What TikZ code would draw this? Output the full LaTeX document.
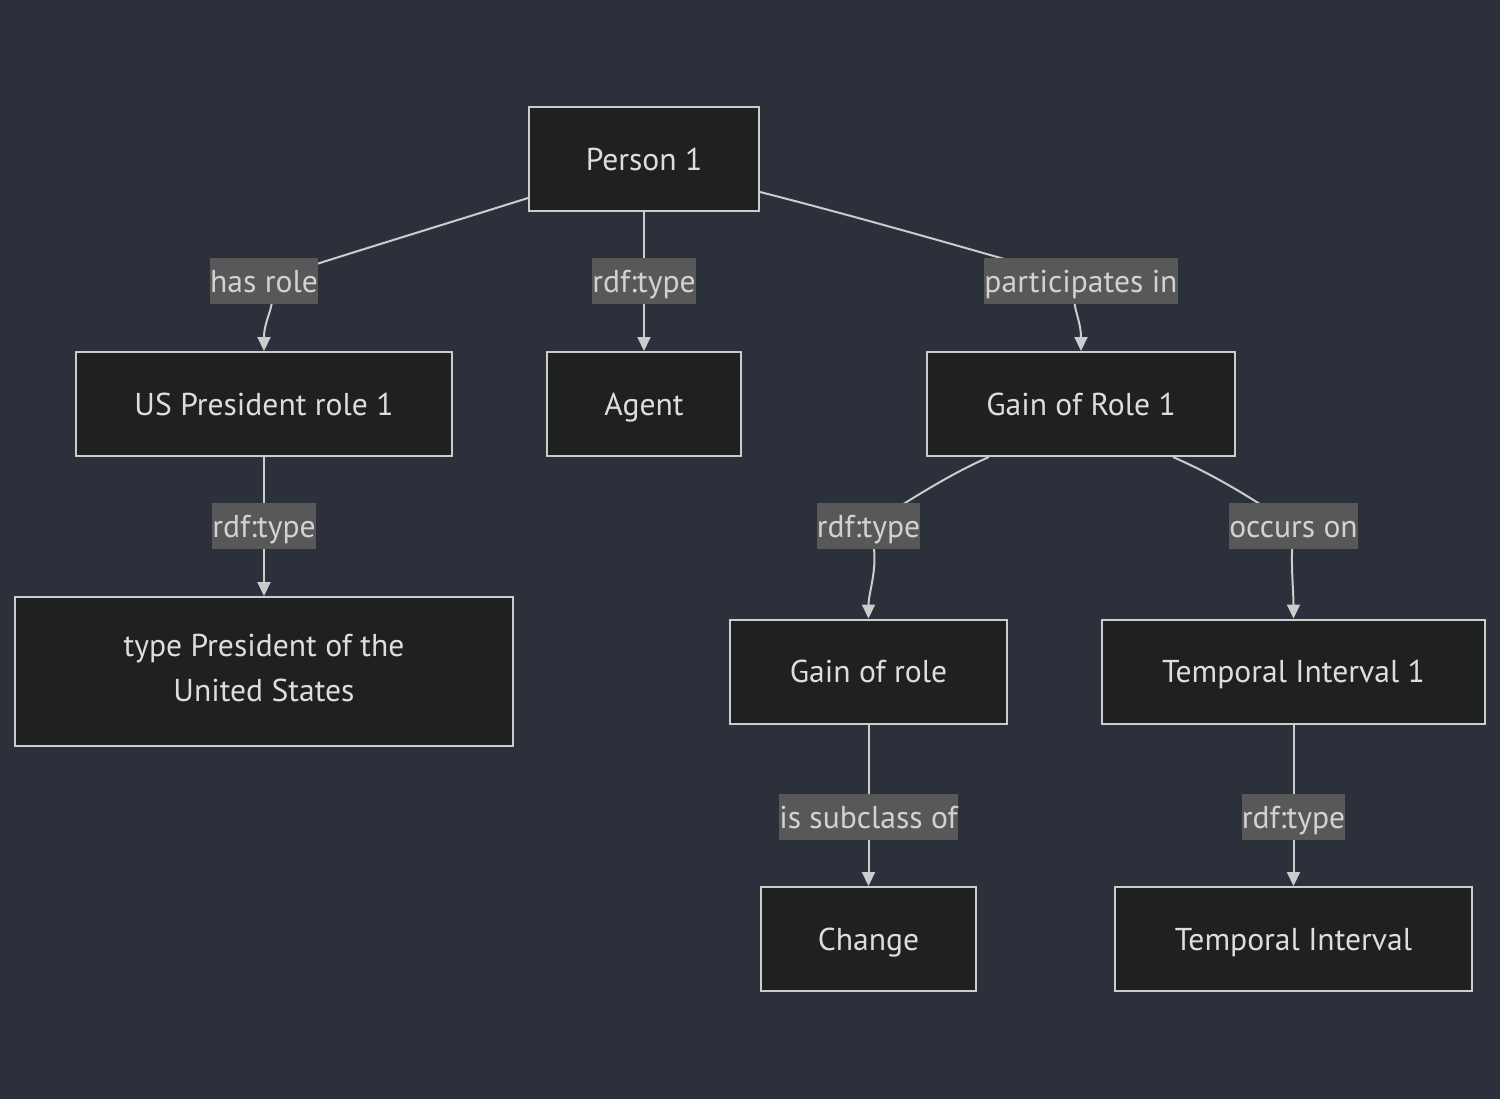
\documentclass[tikz,border=0pt]{standalone}
\usepackage{fontspec}
\setmainfont{PT Sans}
\usetikzlibrary{arrows.meta}
\definecolor{bgcol}{HTML}{2B303B}
\definecolor{boxfill}{HTML}{1F2020}
\definecolor{boxline}{HTML}{CCCCCC}
\definecolor{txtcol}{HTML}{DDDDDD}
\definecolor{lblfill}{HTML}{585858}
\definecolor{lbltxt}{HTML}{D2D2D2}

\begin{document}
\begin{tikzpicture}[x=0.5pt,y=-0.5pt,
  box/.style={draw=boxline,fill=boxfill,line width=1pt,text=txtcol,font=\fontsize{15.8}{22.5}\selectfont,minimum height=52pt,inner sep=0pt,align=center,execute at begin node={\rule[-0.22em]{0pt}{1.14em}}},
  lbl/.style={fill=lblfill,text=lbltxt,font=\fontsize{15.8}{17}\selectfont,minimum height=23pt,inner xsep=0pt,inner ysep=0pt,execute at begin node={\rule[-0.22em]{0pt}{1.14em}}},
  edge/.style={draw=boxline,line width=1pt,-{Triangle[length=7pt,width=6.5pt]}}]%
\fill[bgcol] (0,0) rectangle (1500,1099);%
% boxes
\node[box,minimum width=115pt] (person) at (644,159) {Person 1};%
\node[box,minimum width=188pt] (usrole) at (264,404) {US President role 1};%
\node[box,minimum width=97pt] (agent) at (644,404) {Agent};%
\node[box,minimum width=154pt] (gainrole1) at (1081,404) {Gain of Role 1};%
\node[box,minimum width=249pt,minimum height=74.5pt] (uspres) at (264,671.5) {type President of the\\United States};%
\node[box,minimum width=138.5pt] (gainrole) at (868.5,671.5) {Gain of role};%
\node[box,minimum width=191.5pt] (tempint1) at (1293.5,671.5) {Temporal Interval 1};%
\node[box,minimum width=107.5pt] (change) at (868.5,939) {Change};%
\node[box,minimum width=178.5pt] (tempint) at (1293.5,939) {Temporal Interval};%
% label spots
\coordinate (hasrolept) at (264,281);%
\coordinate (typeapt) at (644,281);%
\coordinate (partpt) at (1081,281);%
\coordinate (typebpt) at (264,526);%
\coordinate (typecpt) at (868.5,526);%
\coordinate (occurspt) at (1293.5,526);%
\coordinate (subclasspt) at (868.5,817);%
\coordinate (typedpt) at (1293.5,817);%
% edges
\draw[edge] ([yshift=7pt]person.south west) .. controls (420,232) and (340,256) .. (hasrolept) .. controls (282,300) and (264,315) .. (usrole.north);%
\draw[edge] (person) -- (agent);%
\draw[edge] ([yshift=10pt]person.south east) .. controls (870,220) and (990,255) .. (partpt) .. controls (1066,300) and (1081,315) .. (gainrole1.north);%
\draw[edge] (usrole) -- (uspres);%
\draw[edge] ([xshift=31.5pt]gainrole1.south west) .. controls (955,472) and (925,490) .. (typecpt) .. controls (882,560) and (868.5,590) .. (gainrole.north);%
\draw[edge] ([xshift=-31.5pt]gainrole1.south east) .. controls (1207,472) and (1240,490) .. (occurspt) .. controls (1290,560) and (1293.5,590) .. (tempint1.north);%
\draw[edge] (gainrole) -- (change);%
\draw[edge] (tempint1) -- (tempint);%
% labels
\node[lbl] (hasrole) at (hasrolept) {has role};%
\node[lbl] (typea) at (typeapt) {rdf:type};%
\node[lbl] (part) at (partpt) {participates in};%
\node[lbl] (typeb) at (typebpt) {rdf:type};%
\node[lbl] (typec) at (typecpt) {rdf:type};%
\node[lbl] (occurs) at (occurspt) {occurs on};%
\node[lbl] (subclass) at (subclasspt) {is subclass of};%
\node[lbl] (typed) at (typedpt) {rdf:type};%
\end{tikzpicture}
\end{document}
